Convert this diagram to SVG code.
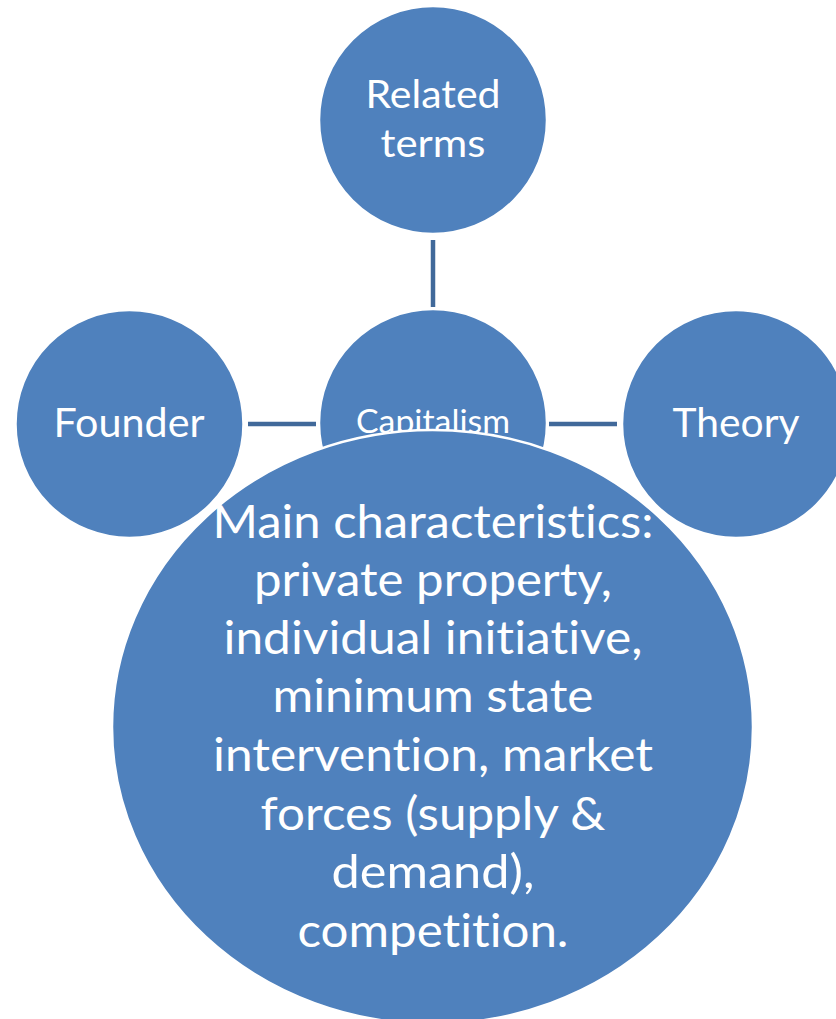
<svg xmlns="http://www.w3.org/2000/svg" width="836" height="1019" viewBox="0 0 836 1019">
<style>
.node{fill:#4F81BD;stroke:#FFFFFF;stroke-width:2.5}
.lbl{fill:#FFFFFF;font-family:Lato,"Open Sans","Liberation Sans",sans-serif;text-anchor:middle;font-variant-ligatures:none;font-feature-settings:"liga" 0}
.conn{stroke:#41699A;stroke-width:4.5;fill:none}
</style>
<rect width="836" height="1019" fill="#FFFFFF"/>
<g id="connectors">
<line class="conn" x1="433" y1="240" x2="433" y2="307"/>
<line class="conn" x1="248" y1="424" x2="316" y2="424"/>
<line class="conn" x1="549" y1="424" x2="617" y2="424"/>
</g>
<g id="node-related">
<circle class="node" cx="433" cy="120" r="114"/>
<text class="lbl" font-size="39" x="433" y="108" textLength="135" lengthAdjust="spacingAndGlyphs">Related</text>
<text class="lbl" font-size="39" x="433" y="157" textLength="105" lengthAdjust="spacingAndGlyphs">terms</text>
</g>
<g id="node-founder">
<circle class="node" cx="129.5" cy="424" r="114"/>
<text class="lbl" font-size="40" x="129" y="437" textLength="151" lengthAdjust="spacingAndGlyphs">Founder</text>
</g>
<g id="node-theory">
<circle class="node" cx="736" cy="424" r="114"/>
<text class="lbl" font-size="40" x="736" y="437" textLength="127" lengthAdjust="spacingAndGlyphs">Theory</text>
</g>
<g id="node-capitalism">
<circle class="node" cx="433" cy="423" r="114"/>
<text class="lbl" font-size="32" x="433" y="433" textLength="154" lengthAdjust="spacingAndGlyphs">Capitalism</text>
</g>
<g id="node-main">
<ellipse class="node" cx="432.5" cy="727" rx="320.5" ry="297"/>
<text class="lbl" font-size="46" x="433" y="537.5" textLength="441" lengthAdjust="spacingAndGlyphs">Main characteristics:</text>
<text class="lbl" font-size="46" x="433" y="596" textLength="358" lengthAdjust="spacingAndGlyphs">private property,</text>
<text class="lbl" font-size="46" x="433" y="654" textLength="419" lengthAdjust="spacingAndGlyphs">individual initiative,</text>
<text class="lbl" font-size="46" x="433" y="712" textLength="321" lengthAdjust="spacingAndGlyphs">minimum state</text>
<text class="lbl" font-size="46" x="433" y="771" textLength="440" lengthAdjust="spacingAndGlyphs">intervention, market</text>
<text class="lbl" font-size="46" x="433" y="829.5" textLength="345" lengthAdjust="spacingAndGlyphs">forces (supply &amp;</text>
<text class="lbl" font-size="46" x="433" y="888" textLength="203" lengthAdjust="spacingAndGlyphs">demand),</text>
<text class="lbl" font-size="46" x="433" y="946.5" textLength="271" lengthAdjust="spacingAndGlyphs">competition.</text>
</g>
</svg>
